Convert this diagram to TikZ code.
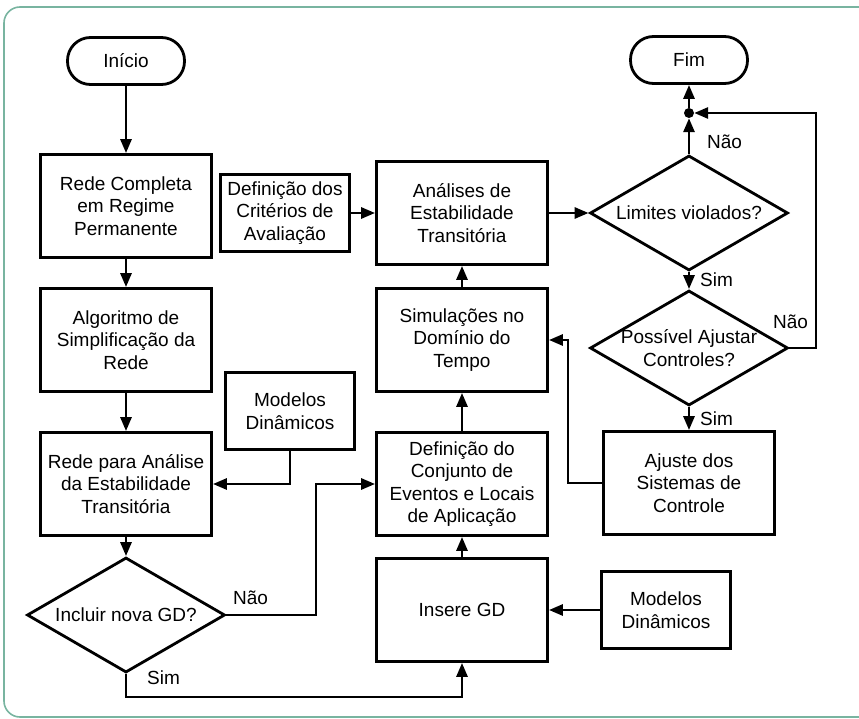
\documentclass[tikz,border=0pt]{standalone}
\usepackage{fontspec}
\setmainfont{Liberation Sans}
\usetikzlibrary{shapes.geometric,arrows.meta}
\definecolor{moldura}{RGB}{120,180,160}

\begin{document}
\begin{tikzpicture}[x=1pt,y=-1pt,
        font=\fontsize{19}{22.5}\selectfont,
        bloco/.style={draw, line width=2.8pt, align=center, inner sep=0pt, minimum width=171pt, minimum height=103pt},
        blocop/.style={draw, line width=2.8pt, align=center, inner sep=0pt, minimum width=129pt, minimum height=77pt},
        terminal/.style={draw, line width=2.8pt, rounded corners=23pt, inner sep=0pt, minimum width=117pt, minimum height=47pt},
        decisao/.style={draw, diamond, line width=2.8pt, inner sep=0pt, minimum width=198pt, minimum height=115pt},
        seta/.style={line width=2.8pt, -{Triangle[length=14pt,width=11pt]}},
        rotulo/.style={inner sep=0pt, anchor=west}]
    \useasboundingbox (0,0) rectangle (859,719);
    \begin{scope}
        \clip (0,0) rectangle (859,719);
        \draw[moldura, line width=1.6pt, rounded corners=16pt] (880,7) -- (4,7) -- (4,717) -- (880,717);
    \end{scope}

    % coluna da esquerda
    \node[terminal] (inicio)      at (126, 61) {Início};
    \node[bloco]    (completa)    at (126,206) {Rede Completa\\em Regime\\Permanente};
    \node[bloco]    (algoritmo)   at (126,340) {Algoritmo de\\Simplificação da\\Rede};
    \node[bloco]    (redeanalise) at (126,484) {Rede para Análise\\da Estabilidade\\Transitória};
    \node[decisao]  (incluir)     at (126,615) {};
    \node           (incluirtxt)  at (incluir) {Incluir nova GD?};
    \node[blocop]   (criterios)   at (285,213) {Definição dos\\Critérios de\\Avaliação};
    \node[blocop]   (modelosA)    at (290,411) {Modelos\\Dinâmicos};

    % coluna do meio
    \node[bloco]    (analises)    at (462,213) {Análises de\\Estabilidade\\Transitória};
    \node[bloco]    (simulacoes)  at (462,340) {Simulações no\\Domínio do\\Tempo};
    \node[bloco]    (eventos)     at (462,484) {Definição do\\Conjunto de\\Eventos e Locais\\de Aplicação};
    \node[bloco]    (insere)      at (462,610) {Insere GD};
    \node[blocop]   (modelosB)    at (666,610) {Modelos\\Dinâmicos};

    % coluna da direita
    \node[terminal] (fim)         at (689, 60) {Fim};
    \node[circle, fill, inner sep=0pt, minimum size=10pt] (juncao) at (689,113) {};
    \node[decisao]  (limites)     at (689,213) {};
    \node           (limitestxt)  at (limites) {Limites violados?};
    \node[decisao]  (possivel)    at (689,348) {};
    \node[align=center] (possiveltxt) at (possivel) {Possível Ajustar\\Controles?};
    \node[bloco]    (ajuste)      at (689,483) {Ajuste dos\\Sistemas de\\Controle};

    \coordinate (retorno) at (816,113);
    \coordinate (desvio)  at (568,483);
    \coordinate (subida)  at (316,550);
    \coordinate (base)    at (300,697);

    % ligacoes
    \draw[seta] (inicio) -- (completa);
    \draw[seta] (completa) -- (algoritmo);
    \draw[seta] (algoritmo) -- (redeanalise);
    \draw[seta] (redeanalise) -- (incluir);
    \draw[seta] (modelosA.south) |- (redeanalise.east);
    \draw[seta] (incluir.east) -| (subida) |- (eventos.west);
    \draw[seta] (incluir.south) |- (base) -| (insere.south);
    \draw[seta] (criterios) -- (analises);
    \draw[seta] (analises) -- (limites);
    \draw[seta] (simulacoes) -- (analises);
    \draw[seta] (eventos) -- (simulacoes);
    \draw[seta] (insere) -- (eventos);
    \draw[seta] (modelosB) -- (insere);
    \draw[seta] (limites) -- (juncao);
    \draw[seta] (juncao) -- (fim);
    \draw[seta] (limites) -- (possivel);
    \draw[seta] (possivel.east) -| (retorno) -- (juncao);
    \draw[seta] (possivel) -- (ajuste);
    \draw[seta] (ajuste.west) -- (desvio) |- (simulacoes.east);

    % rotulos
    \node[rotulo] (naoA) at (707,142) {Não};
    \node[rotulo] (simA) at (700,280) {Sim};
    \node[rotulo] (naoB) at (773,322) {Não};
    \node[rotulo] (simB) at (700,419) {Sim};
    \node[rotulo] (naoC) at (233,598) {Não};
    \node[rotulo] (simC) at (147,678) {Sim};
\end{tikzpicture}
\end{document}
